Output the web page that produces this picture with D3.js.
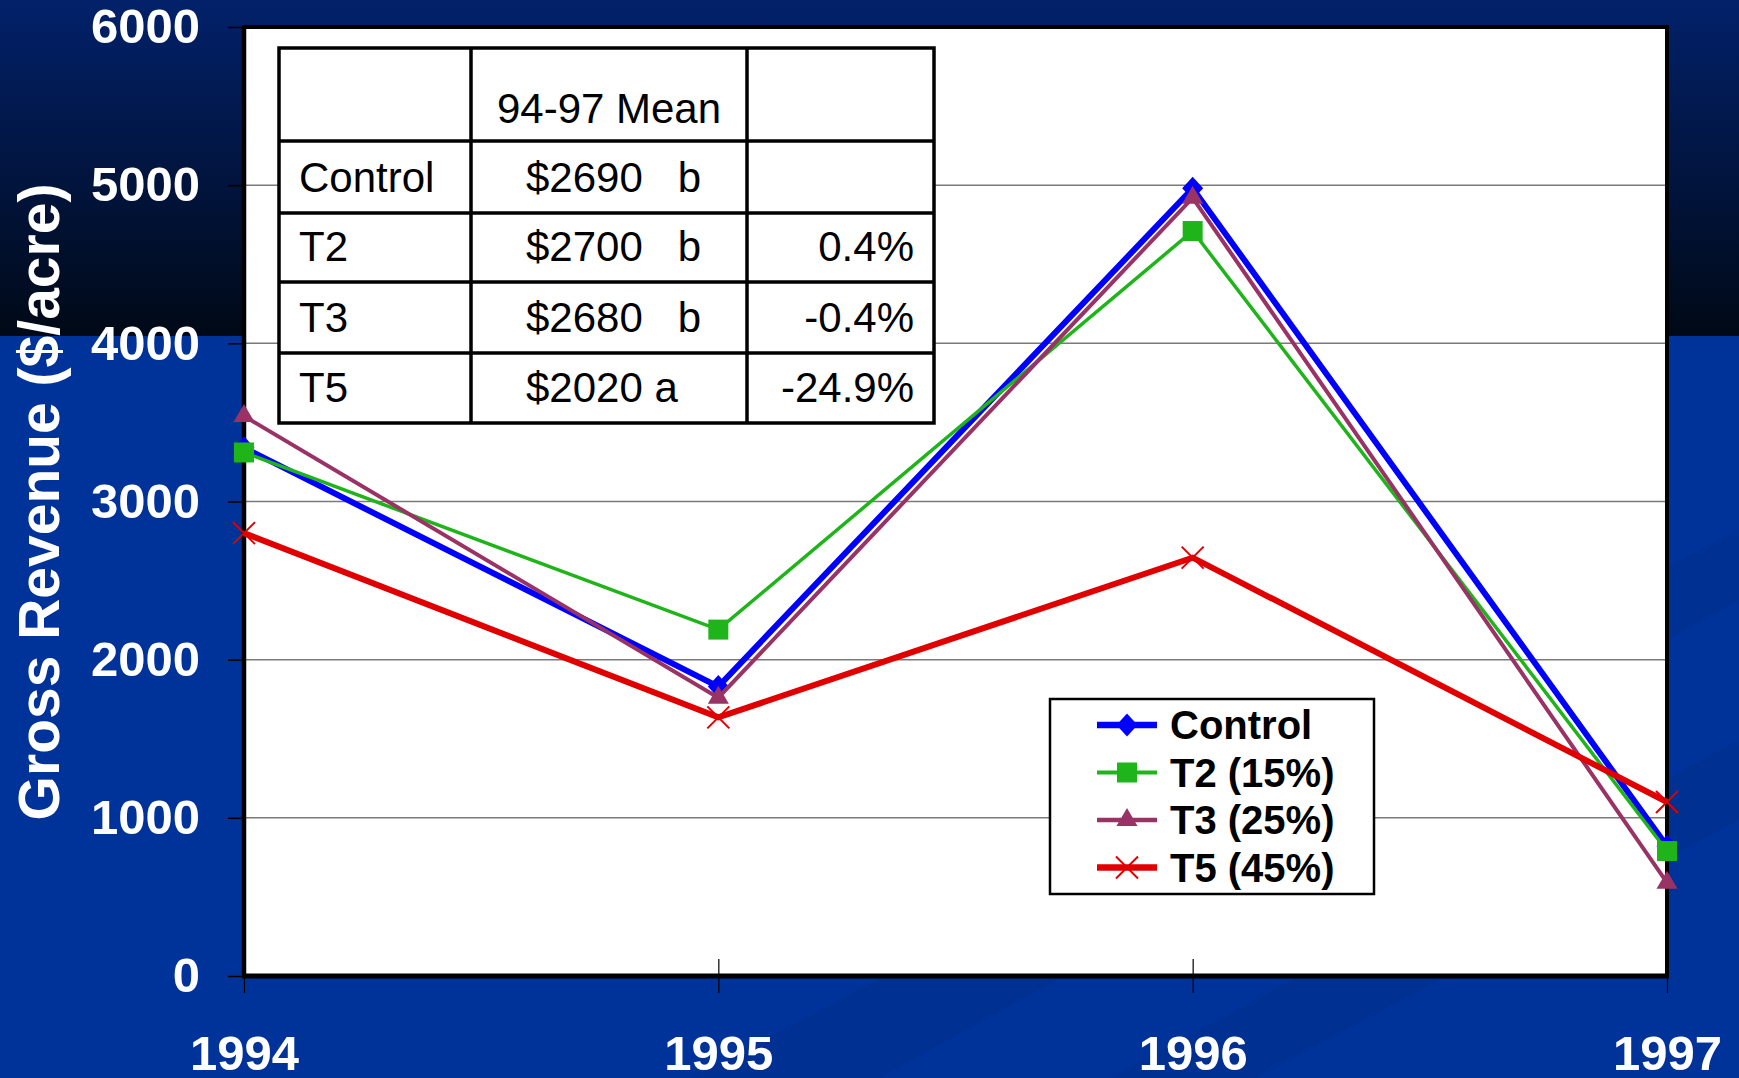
<!DOCTYPE html>
<html>
<head>
<meta charset="utf-8">
<script src="https://cdn.jsdelivr.net/npm/d3@7"></script>
<style>
  html, body { margin: 0; padding: 0; background: #003399; overflow: hidden; }
  svg { display: block; }
</style>
</head>
<body>
<svg id="visualization" width="1739" height="1078"></svg>
<script>
// Data //////////////////////////////////////////////////////////////////////
var years       = ['1994', '1995', '1996', '1997'];
var seriesNames = ['Control', 'T2 (15%)', 'T3 (25%)', 'T5 (45%)'];
var control     = [3340, 1830, 4980, 820];
var t2          = [3310, 2190, 4710, 790];
var t3          = [3540, 1760, 4920, 590];
var t5          = [2800, 1635, 2645, 1100];
var yTicks      = [0, 1000, 2000, 3000, 4000, 5000, 6000];
var tableHeader = ['', '94-97 Mean', ''];
var tableRows   = ['Control', 'T2', 'T3', 'T5'];
var tableMeans  = ['$2690   b', '$2700   b', '$2680   b', '$2020 a'];
var tableChange = ['', '0.4%', '-0.4%', '-24.9%'];

(function() {
  "use strict";
  var W = 1739, H = 1078,
      geom = {left: 244, right: 1667, top: 27, bottom: 976},                   // plot rectangle
      font = "'Liberation Sans', Arial, Helvetica, sans-serif",
      vis = d3.select('#visualization');

  var series = [control, t2, t3, t5];
  var styles = [                                                    // one entry per series
    {color: '#0000ff', width: 6,   marker: 'diamond'},
    {color: '#1fb51a', width: 3.5, marker: 'square'},
    {color: '#993366', width: 4,   marker: 'triangle'},
    {color: '#e00000', width: 6,   marker: 'cross'}
  ];

  // Background ////////////////////////////////////////////////////////////////////////////////
  var defs = vis.append('defs');
  var grad = defs.append('linearGradient').attr('id', 'topGrad')
    .attr('x1', 0).attr('y1', 0).attr('x2', 0).attr('y2', 1);
  grad.append('stop').attr('offset', '0%').attr('stop-color', '#02216a');
  grad.append('stop').attr('offset', '100%').attr('stop-color', '#000916');

  vis.append('rect').attr('width', W).attr('height', H).attr('fill', '#003399');
  var stripes = vis.append('g').attr('class', 'stripes').attr('fill', '#002f8e').attr('opacity', 0.7);
  stripes.append('path').attr('d', 'M690,1078 L880,1078 L1739,600 L1739,530 Z');
  stripes.append('path').attr('d', 'M1110,1078 L1255,1078 L1739,820 L1739,740 Z');
  vis.append('rect').attr('width', W).attr('height', 336).attr('fill', 'url(#topGrad)');

  // Scales ////////////////////////////////////////////////////////////////////////////////////
  var x = d3.scalePoint().domain(years).range([geom.left, geom.right]).padding(0);
  var y = d3.scaleLinear().domain([0, 6000]).range([geom.bottom, geom.top]);

  // Plot area and grid ////////////////////////////////////////////////////////////////////////
  vis.append('rect').attr('class', 'inner')
    .attr('x', geom.left).attr('y', geom.top)
    .attr('width', geom.right - geom.left).attr('height', geom.bottom - geom.top)
    .attr('fill', '#ffffff');

  vis.append('g').attr('class', 'grid').selectAll('line')
    .data(yTicks.filter(function(d) { return d > 0 && d < 6000 }))
    .enter().append('line')
    .attr('x1', geom.left).attr('x2', geom.right)
    .attr('y1', function(d) { return y(d) }).attr('y2', function(d) { return y(d) })
    .attr('stroke', '#7a7a7a').attr('stroke-width', 1.5);

  // Axes //////////////////////////////////////////////////////////////////////////////////////
  var yAxis = vis.append('g').attr('class', 'axis y')
    .attr('transform', 'translate(' + geom.left + ',0)')
    .call(d3.axisLeft(y).tickValues(yTicks).tickSize(16).tickPadding(28).tickFormat(d3.format('d')));
  yAxis.select('.domain').remove();
  yAxis.selectAll('.tick line').attr('stroke', '#000').attr('stroke-width', 1.5);
  yAxis.selectAll('.tick text')
    .attr('fill', '#fff').style('font-family', font).style('font-weight', 'bold').style('font-size', '49px');

  var xAxis = vis.append('g').attr('class', 'axis x')
    .attr('transform', 'translate(0,' + (geom.bottom - 17) + ')')
    .call(d3.axisBottom(x).tickSize(34).tickPadding(42));
  xAxis.select('.domain').remove();
  xAxis.selectAll('.tick line').attr('stroke', '#000').attr('stroke-width', 1.2);
  xAxis.selectAll('.tick text')
    .attr('fill', '#fff').style('font-family', font).style('font-weight', 'bold').style('font-size', '49px');

  // frame of the plot
  var frame = vis.append('g').attr('class', 'frame').attr('stroke', '#000');
  frame.append('line').attr('x1', geom.left - 2).attr('x2', geom.right + 2)
    .attr('y1', geom.top).attr('y2', geom.top).attr('stroke-width', 4);
  frame.append('line').attr('x1', geom.right).attr('x2', geom.right)
    .attr('y1', geom.top).attr('y2', geom.bottom).attr('stroke-width', 4);
  frame.append('line').attr('x1', geom.left).attr('x2', geom.left)
    .attr('y1', geom.top).attr('y2', geom.bottom).attr('stroke-width', 4.5);
  frame.append('line').attr('x1', geom.left - 2).attr('x2', geom.right + 2)
    .attr('y1', geom.bottom).attr('y2', geom.bottom).attr('stroke-width', 5);

  // Y axis title
  vis.append('text').attr('class', 'title')
    .attr('transform', 'translate(59,502) rotate(-90)')
    .attr('text-anchor', 'middle')
    .attr('fill', '#fff').style('font-family', font).style('font-weight', 'bold').style('font-size', '57px')
    .text('Gross Revenue ($/acre)');

  // Markers ///////////////////////////////////////////////////////////////////////////////////
  function markerPath(kind) {
    if (kind === 'diamond') return 'M0,-11.5 L10.5,0 L0,11.5 L-10.5,0 Z';
    if (kind === 'square') return 'M-10,-10 L10,-10 L10,10 L-10,10 Z';
    if (kind === 'triangle') return 'M0,-12 L10.5,6 L-10.5,6 Z';
    return 'M-11,-11 L11,11 M-11,11 L11,-11';
  }
  function drawMarker(g, st) {
    var p = g.append('path').attr('d', markerPath(st.marker));
    if (st.marker === 'cross') p.attr('fill', 'none').attr('stroke', st.color).attr('stroke-width', 2);
    else p.attr('fill', st.color);
    return p;
  }

  // Series ////////////////////////////////////////////////////////////////////////////////////
  var line = d3.line()
    .x(function(d, i) { return x(years[i]) })
    .y(function(d) { return y(d) });

  series.forEach(function(values, s) {
    var st = styles[s];
    var g = vis.append('g').attr('class', 'series s' + s);
    g.append('path').datum(values)
      .attr('d', line)
      .attr('fill', 'none').attr('stroke', st.color).attr('stroke-width', st.width)
      .attr('stroke-linejoin', 'miter');
    values.forEach(function(v, i) {
      var m = g.append('g').attr('transform', 'translate(' + x(years[i]) + ',' + y(v) + ')');
      drawMarker(m, st);
    });
  });

  // Table of means ////////////////////////////////////////////////////////////////////////////
  var colEdges = [279, 471, 747, 934],
      rowEdges = [48, 141, 213, 282, 353, 423];
  var table = vis.append('g').attr('class', 'table')
    .style('font-family', font).style('font-size', '42px').attr('fill', '#000');
  table.append('rect').attr('x', colEdges[0]).attr('y', rowEdges[0])
    .attr('width', colEdges[3] - colEdges[0]).attr('height', rowEdges[5] - rowEdges[0])
    .attr('fill', '#fff').attr('stroke', '#000').attr('stroke-width', 3.5);
  colEdges.slice(1, 3).forEach(function(cx) {
    table.append('line').attr('x1', cx).attr('x2', cx).attr('y1', rowEdges[0]).attr('y2', rowEdges[5])
      .attr('stroke', '#000').attr('stroke-width', 3.5);
  });
  rowEdges.slice(1, 5).forEach(function(ry) {
    table.append('line').attr('x1', colEdges[0]).attr('x2', colEdges[3]).attr('y1', ry).attr('y2', ry)
      .attr('stroke', '#000').attr('stroke-width', 3.5);
  });
  table.append('text').attr('x', (colEdges[1] + colEdges[2]) / 2).attr('y', 123)
    .attr('text-anchor', 'middle').text(tableHeader[1]);
  tableRows.forEach(function(r, i) {
    var by = rowEdges[i + 2] - 21;                                       // baseline in row
    table.append('text').attr('x', 299).attr('y', by).text(r);
    table.append('text').attr('x', 526).attr('y', by).style('white-space', 'pre')
      .attr('xml:space', 'preserve').text(tableMeans[i]);
    table.append('text').attr('x', 914).attr('y', by).attr('text-anchor', 'end').text(tableChange[i]);
  });

  // Legend ////////////////////////////////////////////////////////////////////////////////////
  var legend = vis.append('g').attr('class', 'legend');
  legend.append('rect').attr('x', 1050).attr('y', 699).attr('width', 324).attr('height', 195)
    .attr('fill', '#fff').attr('stroke', '#000').attr('stroke-width', 2.5);
  seriesNames.forEach(function(name, i) {
    var st = styles[i], cy = 725 + i * 47.5;
    var item = legend.append('g').attr('transform', 'translate(0,' + cy + ')');
    item.append('line').attr('x1', 1097).attr('x2', 1157).attr('y1', 0).attr('y2', 0)
      .attr('stroke', st.color).attr('stroke-width', st.width + 0.5);
    drawMarker(item.append('g').attr('transform', 'translate(1127,0)'), st);
    item.append('text').attr('x', 1170).attr('y', 14)
      .style('font-family', font).style('font-weight', 'bold').style('font-size', '40px')
      .attr('fill', '#000').text(name);
  });
})();
</script>
</body>
</html>
